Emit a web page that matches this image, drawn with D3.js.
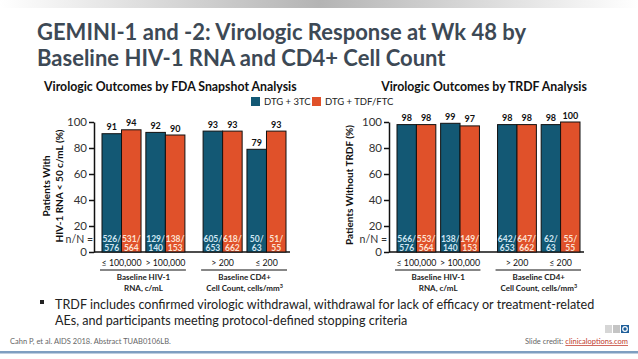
<!DOCTYPE html>
<html><head><meta charset="utf-8">
<script src="https://cdn.jsdelivr.net/npm/d3@7"></script>
<style>
html,body{margin:0;padding:0;background:#fff;}
svg{display:block;font-family:Lato,"Open Sans",sans-serif;}
</style></head>
<body>
<svg id="c" width="638" height="359"></svg>
<script>
// ---- data ----
const categories = ["≤ 100,000", "> 100,000", "> 200", "≤ 200"];
const panelLabels = [["Baseline HIV-1", "RNA, c/mL"], ["Baseline CD4+", "Cell Count, cells/mm³"]];
const seriesNames = ["DTG + 3TC", "DTG + TDF/FTC"];
const snapshotDTG3TC = [91, 92, 93, 79];
const snapshotDTGTDF = [94, 90, 93, 93];
const snapshotNDTG3TC = ["526/|576", "129/|140", "605/|653", "50/|63"];
const snapshotNDTGTDF = ["531/|564", "138/|153", "618/|662", "51/|55"];
const trdfDTG3TC = [98, 99, 98, 98];
const trdfDTGTDF = [98, 97, 98, 100];
const trdfNDTG3TC = ["566/|576", "138/|140", "642/|653", "62/|63"];
const trdfNDTGTDF = ["553/|564", "149/|153", "647/|662", "55/|55"];
const yTicks = [0, 20, 40, 60, 80, 100];

const colors = ["#135874", "#e0512a"];
const nColors = ["#cfe6f2", "#fde2d2"];

const svg = d3.select("#c");
const defs = svg.append("defs");
const g1 = defs.append("linearGradient").attr("id", "topg");
g1.append("stop").attr("offset", "0%").attr("stop-color", "#ffffff");
g1.append("stop").attr("offset", "50%").attr("stop-color", "#b4b4b4");
g1.append("stop").attr("offset", "100%").attr("stop-color", "#ffffff");
svg.append("rect").attr("x", 0).attr("y", 0).attr("width", 638).attr("height", 8).attr("fill", "url(#topg)");

// title
const title = svg.append("text").attr("fill", "#3d4955").attr("font-weight", "bold").attr("font-size", 22);
title.append("tspan").attr("x", 37).attr("y", 40).text("GEMINI-1 and -2: Virologic Response at Wk 48 by");
title.append("tspan").attr("x", 37).attr("y", 66).text("Baseline HIV-1 RNA and CD4+ Cell Count");

// legend
const leg = svg.append("g");
const legX = [251, 312];
seriesNames.forEach((s, i) => {
  leg.append("rect").attr("x", legX[i]).attr("y", 97).attr("width", 9).attr("height", 9).attr("fill", colors[i]);
  leg.append("text").attr("x", legX[i] + 13).attr("y", 105).attr("font-size", 9.5).attr("fill", "#222").text(s);
});

function drawChart(opt) {
  const g = svg.append("g");
  const y = d3.scaleLinear().domain([0, 100]).range([252, 122]);
  const xPanel = d3.scaleBand().domain([0, 1]).range([opt.x0, opt.x1]).paddingInner(0.18);
  const xCat = d3.scaleBand().domain([0, 1]).range([0, xPanel.bandwidth()]).paddingInner(0.11);
  const xSer = d3.scaleBand().domain([0, 1]).range([0, xCat.bandwidth()]);
  const catX = i => xPanel(Math.floor(i / 2)) + xCat(i % 2);

  // subtitle
  g.append("text").attr("x", opt.subX).attr("y", 91).attr("text-anchor", opt.subAnchor)
    .attr("font-size", 12.3).attr("font-weight", "bold").attr("fill", "#111").text(opt.subtitle);

  // y axis
  const ya = g.append("g").attr("transform", `translate(${opt.axisX},0)`)
    .call(d3.axisLeft(y).tickValues(yTicks).tickSize(5).tickPadding(2).tickSizeOuter(0));
  ya.select(".domain").attr("stroke", "#111").attr("stroke-width", 1.5);
  ya.selectAll(".tick line").attr("stroke", "#111").attr("stroke-width", 1.5);
  ya.selectAll(".tick text").attr("font-size", 11.5).attr("fill", "#333").attr("font-family", "Lato,sans-serif");
  // x axis baseline
  g.append("line").attr("x1", opt.axisX).attr("x2", opt.x1 + 4).attr("y1", y(0)).attr("y2", y(0))
    .attr("stroke", "#111").attr("stroke-width", 1.5);

  const vals = [opt.a, opt.b];
  const ns = [opt.na, opt.nb];
  categories.forEach((c, i) => {
    [0, 1].forEach(s => {
      const bx = catX(i) + xSer(s);
      const v = vals[s][i];
      g.append("rect").attr("x", bx).attr("y", y(v)).attr("width", xSer.bandwidth()).attr("height", y(0) - y(v))
        .attr("fill", colors[s]).attr("stroke", "#111").attr("stroke-width", 1);
      g.append("text").attr("x", bx + xSer.bandwidth() / 2).attr("y", y(v) - 3.5).attr("text-anchor", "middle")
        .attr("font-size", 9).attr("font-weight", "bold").attr("fill", "#111").text(v);
      const parts = ns[s][i].split("|");
      g.append("text").attr("x", bx + xSer.bandwidth() / 2).attr("y", 242).attr("text-anchor", "middle")
        .attr("font-size", 8.5).attr("font-weight", "bold").attr("fill", nColors[s]).text(parts[0]);
      g.append("text").attr("x", bx + xSer.bandwidth() / 2).attr("y", 250.5).attr("text-anchor", "middle")
        .attr("font-size", 8.5).attr("font-weight", "bold").attr("fill", nColors[s]).text(parts[1]);
    });
    g.append("text").attr("x", catX(i) + xCat.bandwidth() / 2).attr("y", 266).attr("text-anchor", "middle")
      .attr("font-size", 8.8).attr("fill", "#111").text(c);
  });
  [0, 1].forEach(p => {
    const px = xPanel(p);
    g.append("line").attr("x1", px - 2).attr("x2", px + xPanel.bandwidth() + 1).attr("y1", 270).attr("y2", 270)
      .attr("stroke", "#111").attr("stroke-width", 1.2);
    panelLabels[p].forEach((t, k) => {
      const tx = g.append("text").attr("x", px + xPanel.bandwidth() / 2).attr("y", 280 + k * 11).attr("text-anchor", "middle")
        .attr("font-size", 8).attr("font-weight", "bold").attr("fill", "#222");
      if (t.indexOf("³") >= 0) {
        tx.text(t.replace("³", ""));
        tx.append("tspan").attr("font-size", 5.5).attr("dy", -3).text("3");
      } else tx.text(t);
    });
  });

  // y title
  opt.yTitle.forEach((t, k) => {
    g.append("text").attr("transform", `translate(${opt.yTitleX[k]},${opt.yTitleY}) rotate(-90)`)
      .attr("text-anchor", "middle").attr("font-size", 10).attr("font-weight", "bold").attr("fill", "#111").text(t);
  });
  g.append("text").attr("x", opt.nX).attr("y", 243).attr("text-anchor", "end").attr("font-size", 10.5).attr("fill", "#333").text("n/N =");
}

drawChart({
  x0: 102, x1: 286, axisX: 94, subX: 44, subAnchor: "start",
  subtitle: "Virologic Outcomes by FDA Snapshot Analysis",
  a: snapshotDTG3TC, b: snapshotDTGTDF, na: snapshotNDTG3TC, nb: snapshotNDTGTDF,
  yTitle: ["Patients With", "HIV-1 RNA < 50 c/mL (%)"], yTitleX: [50, 63], yTitleY: 186, nX: 93
});
drawChart({
  x0: 397, x1: 580, axisX: 389, subX: 484, subAnchor: "middle",
  subtitle: "Virologic Outcomes by TRDF Analysis",
  a: trdfDTG3TC, b: trdfDTGTDF, na: trdfNDTG3TC, nb: trdfNDTGTDF,
  yTitle: ["Patients Without TRDF (%)"], yTitleX: [353], yTitleY: 185, nX: 387
});

// bullet note
svg.append("rect").attr("x", 40).attr("y", 300).attr("width", 4).attr("height", 4).attr("fill", "#222");
const note = svg.append("text").attr("font-size", 12.6).attr("fill", "#222");
note.append("tspan").attr("x", 55).attr("y", 309).text("TRDF includes confirmed virologic withdrawal, withdrawal for lack of efficacy or treatment-related");
note.append("tspan").attr("x", 55).attr("y", 325).text("AEs, and participants meeting protocol-defined stopping criteria");

// footer
svg.append("text").attr("x", 10).attr("y", 344).attr("font-size", 7.5).attr("fill", "#666").text("Cahn P, et al. AIDS 2018. Abstract TUAB0106LB.");
const cred = svg.append("text").attr("x", 628).attr("y", 344).attr("text-anchor", "end").attr("font-size", 7.5).attr("fill", "#666");
cred.append("tspan").text("Slide credit: ");
cred.append("tspan").attr("fill", "#c0392b").attr("text-decoration", "underline").text("clinicaloptions.com");
// logo
svg.append("rect").attr("x", 605).attr("y", 325).attr("width", 7).attr("height", 8).attr("fill", "#d6d6d6");
svg.append("rect").attr("x", 613).attr("y", 325).attr("width", 7).attr("height", 8).attr("fill", "#c4c4c4");
svg.append("rect").attr("x", 621).attr("y", 325).attr("width", 8).attr("height", 8).attr("fill", "#1f5f9a");
svg.append("circle").attr("cx", 625).attr("cy", 329).attr("r", 2.3).attr("fill", "none").attr("stroke", "#fff").attr("stroke-width", 1.2);
svg.append("rect").attr("x", 0).attr("y", 351).attr("width", 638).attr("height", 2.5).attr("fill", "#7f9ec0");
</script>
</body></html>
